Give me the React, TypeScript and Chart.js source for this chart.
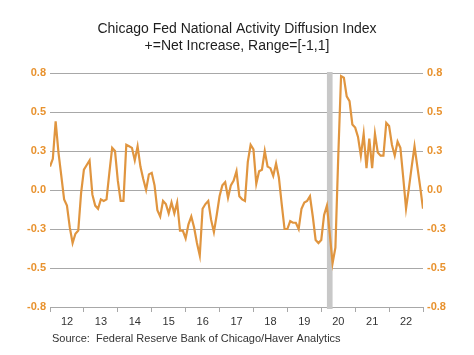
import React, { useEffect, useRef } from "react";
import { Chart, registerables } from "chart.js";

Chart.register(...registerables);

// ---- Data (monthly, Jan 2012 - Jan 2023) ----
const startYear = 2012;
const v2012 = [0.15, 0.2, 0.44, 0.24, 0.09, -0.06, -0.1, -0.24, -0.34, -0.28, -0.26, -0.02];
const v2013 = [0.13, 0.16, 0.19, -0.03, -0.1, -0.12, -0.06, -0.07, -0.06, 0.11, 0.27, 0.25];
const v2014 = [0.06, -0.07, -0.07, 0.29, 0.28, 0.27, 0.19, 0.28, 0.15, 0.07, 0.0, 0.1];
const v2015 = [0.11, 0.03, -0.13, -0.17, -0.07, -0.09, -0.15, -0.08, -0.15, -0.08, -0.26, -0.26];
const v2016 = [-0.31, -0.22, -0.17, -0.24, -0.34, -0.42, -0.12, -0.09, -0.07, -0.19, -0.27, -0.16];
const v2017 = [-0.04, 0.03, 0.05, -0.05, 0.03, 0.06, 0.12, -0.04, -0.06, -0.07, 0.18, 0.29];
const v2018 = [0.26, 0.04, 0.12, 0.13, 0.25, 0.15, 0.14, 0.09, 0.17, 0.08, -0.09, -0.25];
const v2019 = [-0.25, -0.2, -0.21, -0.21, -0.25, -0.12, -0.08, -0.07, -0.04, -0.17, -0.32, -0.34];
const v2020 = [-0.32, -0.16, -0.1, -0.28, -0.47, -0.37, 0.21, 0.73, 0.72, 0.6, 0.57, 0.42];
const v2021 = [0.4, 0.34, 0.22, 0.36, 0.14, 0.33, 0.14, 0.36, 0.24, 0.22, 0.22, 0.43];
const v2022 = [0.41, 0.29, 0.22, 0.31, 0.27, 0.08, -0.12, 0.01, 0.15, 0.28, 0.15, 0.02];
const v2023 = [-0.12];

const yearLabels = ["12", "13", "14", "15", "16", "17", "18", "19", "20", "21", "22"];
const yTickValues = [-0.75, -0.5, -0.25, 0, 0.25, 0.5, 0.75];
const yTickLabels = ["-0.8", "-0.5", "-0.3", "0.0", "0.3", "0.5", "0.8"];
const titleLines = ["Chicago Fed National Activity Diffusion Index", "+=Net Increase, Range=[-1,1]"];
const sourceText = "Source:  Federal Reserve Bank of Chicago/Haver Analytics";
const recession = { from: "2020-03", to: "2020-05" };

const values = [
  ...v2012, ...v2013, ...v2014, ...v2015, ...v2016, ...v2017,
  ...v2018, ...v2019, ...v2020, ...v2021, ...v2022, ...v2023,
];

const monthIndex = (ym: string) => {
  const [y, m] = ym.split("-").map(Number);
  return (y - startYear) * 12 + (m - 1);
};

const FONT = '"Liberation Sans", Arial, Helvetica, sans-serif';
const ORANGE_TXT = "#E8922E";
const LINE = "#E0953F";
const GRID = "#A8A8A8";

export default function App() {
  const ref = useRef<HTMLCanvasElement | null>(null);

  useEffect(() => {
    document.body.style.margin = "0";
    const canvas = ref.current;
    if (!canvas) return;

    const lastIdx = values.length - 1;
    const yearTicks: number[] = [];
    for (let v = 0; v <= lastIdx; v += 12) yearTicks.push(v);

    const decor = {
      id: "decor",
      beforeDatasetsDraw(chart: any) {
        const { ctx, chartArea, scales } = chart;
        const x0 = scales.x.getPixelForValue(monthIndex(recession.from));
        const x1 = scales.x.getPixelForValue(monthIndex(recession.to));
        ctx.save();
        ctx.fillStyle = "#C8C8C8";
        ctx.fillRect(x0, chartArea.top - 1, x1 - x0, chartArea.bottom - chartArea.top + 3);
        ctx.restore();
      },
      afterDraw(chart: any) {
        const { ctx, width } = chart;
        ctx.save();
        ctx.fillStyle = "#1e1e1e";
        ctx.font = `14px ${FONT}`;
        ctx.textAlign = "center";
        ctx.textBaseline = "alphabetic";
        ctx.fillText(titleLines[0], width / 2, 33);
        ctx.fillText(titleLines[1], width / 2, 50);
        ctx.textAlign = "left";
        ctx.fillStyle = "#333333";
        ctx.font = `11px ${FONT}`;
        ctx.fillText(sourceText, 52, 342);
        ctx.restore();
      },
    };

    const yAxisCommon = {
      type: "linear" as const,
      min: -0.75,
      max: 0.75,
      afterBuildTicks: (axis: any) => {
        axis.ticks = yTickValues.map((value) => ({ value }));
      },
      border: { display: false },
      ticks: {
        color: ORANGE_TXT,
        font: { family: FONT, size: 11, weight: "bold" as const },
        padding: 4,
        callback: (_v: any, i: number) => yTickLabels[i],
      },
    };

    const chart = new Chart(canvas, {
      type: "line",
      data: {
        datasets: [
          {
            data: values.map((v, i) => ({ x: i, y: v })),
            borderColor: LINE,
            borderWidth: 2.2,
            pointRadius: 0,
            tension: 0,
            fill: false,
          },
        ],
      },
      options: {
        responsive: false,
        animation: false,
        devicePixelRatio: 1,
        layout: { padding: { top: 73, left: 0, right: 0, bottom: 0 } },
        plugins: {
          legend: { display: false },
          tooltip: { enabled: false },
          title: { display: false },
        },
        scales: {
          x: {
            type: "linear",
            min: 0,
            max: lastIdx,
            afterBuildTicks: (axis: any) => {
              axis.ticks = yearTicks.map((value) => ({ value }));
            },
            afterFit: (scale: any) => {
              scale.height = 48;
            },
            grid: {
              display: true,
              drawOnChartArea: false,
              drawTicks: true,
              tickLength: 5,
              color: GRID,
              lineWidth: 1,
            },
            border: { display: true, color: GRID, width: 1 },
            ticks: {
              autoSkip: false,
              maxRotation: 0,
              minRotation: 0,
              labelOffset: 17,
              padding: 3,
              color: "#333333",
              font: { family: FONT, size: 11 },
              callback: (_v: any, i: number) => yearLabels[i] ?? "",
            },
          },
          y: {
            ...yAxisCommon,
            position: "left",
            afterFit: (scale: any) => {
              scale.width = 50;
            },
            grid: { color: GRID, lineWidth: 1, drawTicks: false },
          },
          y2: {
            ...yAxisCommon,
            position: "right",
            afterFit: (scale: any) => {
              scale.width = 51;
            },
            grid: { display: false, drawTicks: false },
          },
        },
      },
      plugins: [decor],
    } as any);

    return () => chart.destroy();
  }, []);

  return (
    <div style={{ width: 474, height: 355, background: "#ffffff" }}>
      <canvas ref={ref} width={474} height={355} style={{ display: "block" }} />
    </div>
  );
}
